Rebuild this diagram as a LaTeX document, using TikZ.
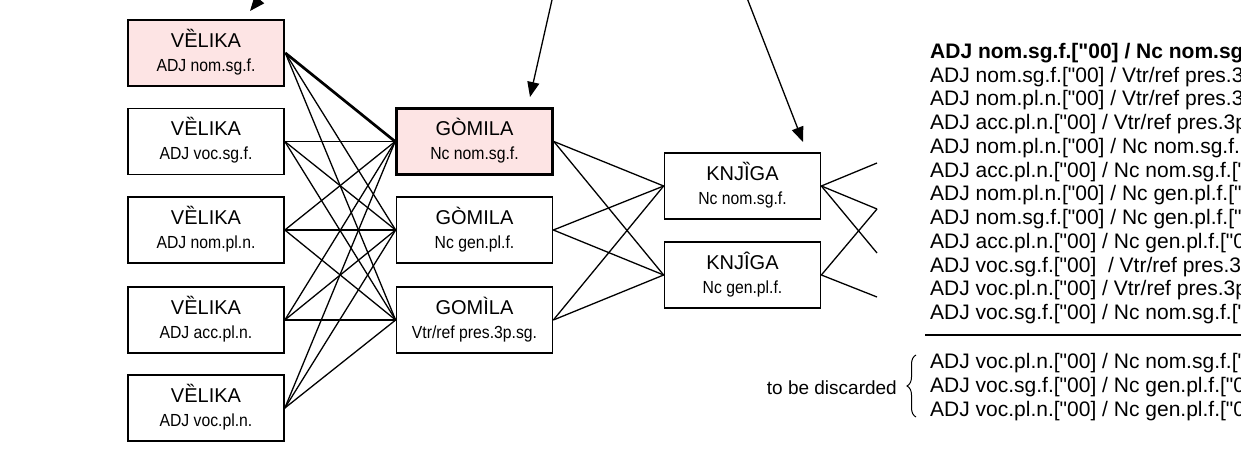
\documentclass[tikz,border=0pt]{standalone}
\usepackage{fontspec}
\setmainfont{Liberation Sans}[Ligatures=TeXOff]
\newfontfamily\narrowsans{Liberation Sans}[Ligatures=TeXOff,FakeStretch=0.9]
\usetikzlibrary{arrows.meta,decorations.pathreplacing}
\definecolor{hlpink}{RGB}{253,228,228}
\newcommand\boxtitle{\fontsize{20}{24}\selectfont}
\newcommand\boxsub{\narrowsans\fontsize{17.5}{21}\selectfont}
\newcommand\rowfont{\fontsize{21}{24}\selectfont}
\newcommand\notefont{\fontsize{19}{22}\selectfont}
% style, name, position, title, subtitle
\newcommand\wordbox[5]{%
  \node[#1] (#2) at (#3) {};
  \node[titletext] (#2t) at ([yshift=5.8pt]#2.center) {#4};
  \node[subtext] (#2s) at ([yshift=-18.3pt]#2.center) {#5};
}
\begin{document}
\begin{tikzpicture}[x=1pt,y=-1pt,
  wbox/.style={draw, line width=1.7pt, minimum width=156pt, minimum height=66pt, inner sep=0pt},
  hbox/.style={wbox, line width=2.7pt, fill=hlpink},
  titletext/.style={anchor=base, inner sep=0pt, font=\boxtitle},
  subtext/.style={anchor=base, inner sep=0pt, font=\boxsub},
  link/.style={line width=1.3pt},
  boldlink/.style={line width=2.7pt},
  arr/.style={line width=1.3pt, -{Triangle[length=15pt,width=12pt]}},
  row/.style={anchor=base west, inner sep=0pt, font=\rowfont},
  sepline/.style={line width=1.3pt},
  bracestyle/.style={line width=1pt, decorate, decoration={brace, amplitude=9pt}}
]
\useasboundingbox (0,0) rectangle (1241,452);
\clip (0,0) rectangle (1241,452);

% left column
\wordbox{hbox}{v1}{206,53}{VȄLIKA}{ADJ nom.sg.f.}
\wordbox{wbox}{v2}{206,141.5}{VȄLIKA}{ADJ voc.sg.f.}
\wordbox{wbox}{v3}{206,230}{VȄLIKA}{ADJ nom.pl.n.}
\wordbox{wbox}{v4}{206,320}{VȄLIKA}{ADJ acc.pl.n.}
\wordbox{wbox}{v5}{206,408}{VȄLIKA}{ADJ voc.pl.n.}
% middle column
\wordbox{hbox}{g1}{474.5,141.5}{GÒMILA}{Nc nom.sg.f.}
\wordbox{wbox}{g2}{474.5,230}{GÒMILA}{Nc gen.pl.f.}
\wordbox{wbox}{g3}{474.5,320}{GOMÌLA}{Vtr/ref pres.3p.sg.}
% right column
\wordbox{wbox}{k1}{742.5,186}{KNJȈGA}{Nc nom.sg.f.}
\wordbox{wbox}{k2}{742.5,275}{KNJÎGA}{Nc gen.pl.f.}

% links
\foreach \v in {v1,v2,v3,v4,v5}
  \foreach \g in {g1,g2,g3}
    \draw[link] (\v.east) -- (\g.west);
\draw[boldlink] (v1.east) -- (g1.west);
\foreach \g in {g1,g2,g3}
  \foreach \k in {k1,k2}
    \draw[link] (\g.east) -- (\k.west);

\coordinate (e1) at (877,163);
\coordinate (e2) at (877,209);
\coordinate (e3) at (877,253);
\coordinate (e4) at (877,297);
\draw[link] (k1.east) -- (e1);
\draw[link] (k1.east) -- (e2);
\draw[link] (k1.east) -- (e3);
\draw[link] (k2.east) -- (e2);
\draw[link] (k2.east) -- (e4);

% arrows from above
\coordinate (a1s) at (300,-50);
\coordinate (a1t) at (250,11);
\coordinate (a2s) at (556.5,-20);
\coordinate (a2t) at (530,97);
\coordinate (a3s) at (740,-20);
\coordinate (a3t) at (803,142);
\draw[arr] (a1s) -- (a1t);
\draw[arr] (a2s) -- (a2t);
\draw[arr] (a3s) -- (a3t);

% text list
\node[row, font=\rowfont\bfseries] (r1) at (930,58.3) {ADJ nom.sg.f.["00] / Nc nom.sg.f.["00]};
\node[row] (r2)  at (930,82.05)  {ADJ nom.sg.f.["00] / Vtr/ref pres.3p.sg.["00]};
\node[row] (r3)  at (930,105.8)  {ADJ nom.pl.n.["00] / Vtr/ref pres.3p.sg.["00]};
\node[row] (r4)  at (930,129.55) {ADJ acc.pl.n.["00] / Vtr/ref pres.3p.sg.["00]};
\node[row] (r5)  at (930,153.3)  {ADJ nom.pl.n.["00] / Nc nom.sg.f.["00]};
\node[row] (r6)  at (930,177.05) {ADJ acc.pl.n.["00] / Nc nom.sg.f.["00]};
\node[row] (r7)  at (930,200.8)  {ADJ nom.pl.n.["00] / Nc gen.pl.f.["00]};
\node[row] (r8)  at (930,224.55) {ADJ nom.sg.f.["00] / Nc gen.pl.f.["00]};
\node[row] (r9)  at (930,248.3)  {ADJ acc.pl.n.["00] / Nc gen.pl.f.["00]};
\node[row] (r10) at (930,272.05) {ADJ voc.sg.f.["00] \ / Vtr/ref pres.3p.sg.["00]};
\node[row] (r11) at (930,295.8)  {ADJ voc.pl.n.["00] / Vtr/ref pres.3p.sg.["00]};
\node[row] (r12) at (930,319.55) {ADJ voc.sg.f.["00] / Nc nom.sg.f.["00]};

\coordinate (l1) at (925,335);
\coordinate (l2) at (1250,335);
\draw[sepline] (l1) -- (l2);

\node[row] (r13) at (930,368) {ADJ voc.pl.n.["00] / Nc nom.sg.f.["00]};
\node[row] (r14) at (930,392) {ADJ voc.sg.f.["00] / Nc gen.pl.f.["00]};
\node[row] (r15) at (930,416) {ADJ voc.pl.n.["00] / Nc gen.pl.f.["00]};

\coordinate (b1) at (916,417);
\coordinate (b2) at (916,355);
\draw[bracestyle] (b1) -- (b2);
\node[anchor=base east, inner sep=0pt, font=\notefont] (disc) at (897,394) {to be discarded};
\end{tikzpicture}
\end{document}
